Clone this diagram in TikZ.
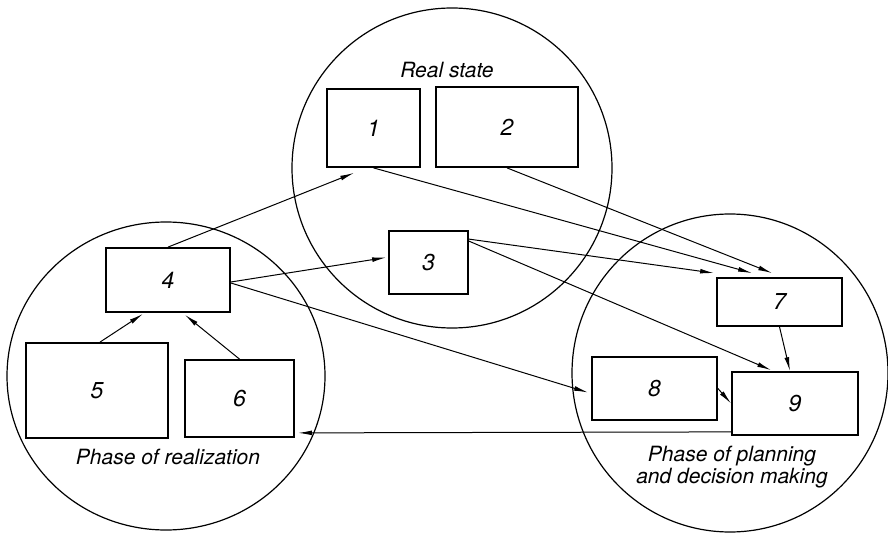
\documentclass[tikz,border=0pt]{standalone}
\usepackage{fontspec}
\setmainfont{TeX Gyre Heros}
\usetikzlibrary{arrows.meta,calc,shapes.geometric}
\begin{document}
\begin{tikzpicture}[x=0.5pt,y=-0.5pt,
  box/.style={draw,line width=0.9pt,inner sep=0pt,font=\fontsize{11.5}{13}\selectfont\itshape},
  ring/.style={draw,ellipse,line width=0.6pt,inner sep=0pt},
  lbl/.style={font=\fontsize{10.5}{12}\selectfont\itshape,align=center,inner sep=0pt},
  arr/.style={line width=0.5pt,-{Latex[length=7pt,width=2.4pt]}}]
\useasboundingbox (0,0) rectangle (888,534);
% circles
\node[ring,minimum width=160pt,minimum height=160pt] (cT) at (452,168) {};
\node[ring,minimum width=159pt,minimum height=154pt] (cL) at (166,376) {};
\node[ring,minimum width=158pt,minimum height=159pt] (cR) at (730,373) {};
% labels
\node[lbl] (lT) at (447,70) {Real state};
\node[lbl] (lL) at (168,457) {Phase of realization};
\node[lbl] (lR) at (732,467) {Phase of planning\\[-1pt]and decision making};
% boxes
\node[box,minimum width=46.5pt,minimum height=39pt,fill=white] (n1) at (373.5,128) {1};
\node[box,minimum width=71pt,minimum height=40pt,fill=white] (n2) at (507,127) {2};
\node[box,minimum width=39.5pt,minimum height=31.5pt,fill=white] (n3) at (428.5,262.5) {3};
\node[box,minimum width=62pt,minimum height=32pt,fill=white] (n4) at (168,280) {4};
\node[box,minimum width=71pt,minimum height=47.5pt,fill=white] (n5) at (97,390.5) {5};
\node[box,minimum width=54.5pt,minimum height=38.5pt,fill=white] (n6) at (239.5,398.5) {6};
\node[box,minimum width=62.5pt,minimum height=24pt,fill=white] (n7) at (779.5,302) {7};
\node[box,minimum width=62.5pt,minimum height=31.5pt,fill=white] (n8) at (654.5,388.5) {8};
\node[box,minimum width=63pt,minimum height=31.5pt,fill=white] (n9) at (795,403.5) {9};
% connectors
\draw[arr] (n4.north) -- ($(n1.south west)+(28,5)$);
\draw[arr] (n1.south) -- ($(n7.north west)+(36,-4)$);
\draw[arr] (n2.south) -- ($(n7.north west)+(56,-4)$);
\draw[arr] ($(n3.north east)+(0,9)$) -- ($(n7.north west)+(-2,-4)$);
\draw[arr] ($(n3.north east)+(0,11)$) -- ($(n9.north west)+(40,-1)$);
\draw[arr] ($(n4.east)+(0,2)$) -- ($(n3.west)+(-2,-5)$);
\draw[arr] ($(n4.east)+(0,3)$) -- ($(n8.west)+(-3,4)$);
\draw[arr] (n7.south) -- ($(n9.north)+(-5,0)$);
\draw[arr] (n8.east) -- (n9.west);
\draw[arr] ($(n9.south west)+(0,-4)$) -- ($(n6.south east)+(3,-5)$);
\draw[arr] ($(n5.north)+(3,0)$) -- ($(n4.south)+(-25,1)$);
\draw[arr] (n6.north) -- ($(n4.south)+(17,2)$);
\end{tikzpicture}
\end{document}
